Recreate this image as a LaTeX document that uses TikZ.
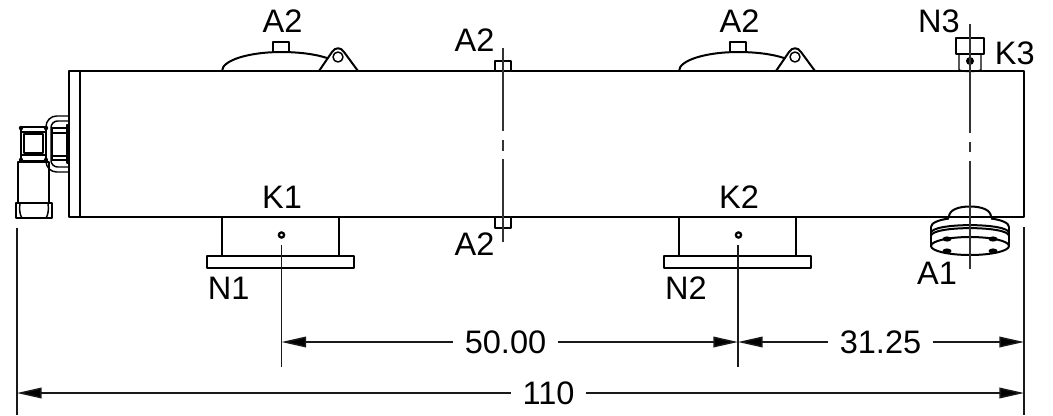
\documentclass[tikz,border=0pt]{standalone}
\usepackage{fontspec}
\setmainfont{Liberation Sans}
\usetikzlibrary{arrows.meta}
\tikzset{
  x=0.75pt,y=-0.75pt,
  part/.style={draw=black,line width=1.5pt,line join=round},
  fine/.style={draw=black,line width=1.1pt,line join=round},
  axis/.style={draw=black!80,line width=1.15pt},
  ext/.style={draw=black!90,line width=1.25pt},
  dimline/.style={draw=black!90,line width=1.1pt,-{Triangle[length=18.5pt,width=8pt,fill=black]}},
  lbl/.style={inner sep=0pt,font=\fontsize{24.4pt}{25pt}\selectfont},
  dimlbl/.style={lbl,inner xsep=8.5pt},
}
\begin{document}
\begin{tikzpicture}
\useasboundingbox (0,0) rectangle (1053,415);
% main body
\draw[part] (69,71) rectangle (1024,217);
\draw[part] (80,71) -- (80,217);

% left connector
\draw[fine,rounded corners=8pt] (69,116) -- (46,116) -- (46,172) -- (69,172);
\draw[fine,rounded corners=5pt] (69,121) -- (51,121) -- (51,167) -- (69,167);
\draw[fine] (52,128) rectangle (67,160);
\draw[fine] (67,125) rectangle (69,163);
\draw[fine] (52,133) -- (67,133);
\draw[fine] (52,156) -- (67,156);
\draw[part] (21,127) rectangle (46,161);
\draw[fine] (24,134) rectangle (43,153);
\draw[fine] (21,132) -- (46,132) (21,155) -- (46,155);
\foreach \kx/\ky in {21/128,46/128,21/160,46/160}{\fill (\kx,\ky) circle (2.2);}
\draw[fine] (18,162) rectangle (49,203);
\draw[part] (16,203) rectangle (52,218);
\draw[fine] (20,203) .. controls (19,210) and (20,215) .. (22,218);
\draw[fine] (48,203) .. controls (49,210) and (48,215) .. (46,218);
\draw[part] (18,162) -- (49,162);

% lids on top
\foreach \dx in {0,457}{
  \draw[part] (222+\dx,71) .. controls (222+\dx,60) and (250+\dx,52) .. (281+\dx,52)
    .. controls (298+\dx,52) and (315+\dx,54) .. (327+\dx,58);
  \draw[fine,fill=white] (273+\dx,42) rectangle (289+\dx,52);
  \draw[part] (319+\dx,71) -- (332+\dx,52)
    .. controls (335+\dx,47) and (341+\dx,47) .. (344+\dx,52) -- (358+\dx,71);
  \draw[fine] (338+\dx,57) circle (5);
  % lower nozzle
  \draw[part] (222+\dx,217) -- (222+\dx,256);
  \draw[part] (339+\dx,217) -- (339+\dx,256);
  \draw[part] (207+\dx,256) rectangle (354+\dx,268);
  \draw[draw=black,line width=1.7pt] (281.5+\dx,235) circle (2.6);
}

% small A2 bosses
\draw[fine] (495,61) rectangle (511,71);
\draw[fine] (495,217) rectangle (511,228);

% centre axis A2
\coordinate (axisAtop) at (503,48);
\coordinate (axisAa) at (503,131);
\coordinate (axisAb) at (503,140);
\coordinate (axisAc) at (503,151);
\coordinate (axisAd) at (503,159);
\coordinate (axisAbot) at (503,242);
\draw[axis] (axisAtop) -- (axisAa) (axisAb) -- (axisAc) (axisAd) -- (axisAbot);

% N3 / K3 fitting
\draw[fine] (956,38) rectangle (984,54);
\draw[fine] (959,54) -- (959,70) .. controls (964,72) and (976,72) .. (981,70) -- (981,54);
\fill (970,61) circle (4);

% A1 flange
\draw[part] (949,217) .. controls (949,210) and (958,206.5) .. (970,206.5)
  .. controls (982,206.5) and (991,210) .. (991,217);
\draw[part] (949,218.5) .. controls (938,220) and (931,223) .. (931,227);
\draw[part] (991,218.5) .. controls (1002,220) and (1009,223) .. (1009,227);
\draw[part] (931,227) -- (931,246) (1009,227) -- (1009,246);
\draw[part] (931,233) .. controls (931,222.5) and (1009,222.5) .. (1009,233);
\draw[part] (931,236) .. controls (931,225.5) and (1009,225.5) .. (1009,236);
\draw[part] (970,246) ellipse [x radius=39,y radius=9];
\foreach \hx/\hy in {947/239,993/239,947/251,993/251}{
  \fill (\hx,\hy) ellipse [x radius=4.5,y radius=2.6];
}

% axis K3 / A1
\coordinate (axisBtop) at (970,24);
\coordinate (axisBa) at (970,133);
\coordinate (axisBb) at (970,142);
\coordinate (axisBc) at (970,152);
\coordinate (axisBd) at (970,161);
\coordinate (axisBbot) at (970,269);
\draw[axis] (axisBtop) -- (axisBa) (axisBb) -- (axisBc) (axisBd) -- (axisBbot);

% labels
\node[lbl] (la1) at (282.5,21) {A2};
\node[lbl] (la2) at (474.5,40.5) {A2};
\node[lbl] (la3) at (739.5,21) {A2};
\node[lbl] (la4) at (474.5,244) {A2};
\node[lbl] (lk1) at (282,197) {K1};
\node[lbl] (lk2) at (739,197) {K2};
\node[lbl] (ln1) at (228.7,288) {N1};
\node[lbl] (ln2) at (686,288) {N2};
\node[lbl] (ln3) at (939,21) {N3};
\node[lbl] (lk3) at (1014.7,53) {K3};
\node[lbl] (la5) at (937,273) {A1};

% extension lines
\coordinate (xk1t) at (281.5,245);
\coordinate (xk1b) at (281.5,367);
\coordinate (xk2t) at (738,245);
\coordinate (xk2b) at (738,367);
\coordinate (xlt) at (17,228);
\coordinate (xlb) at (17,415);
\coordinate (xrt) at (1024,227);
\coordinate (xrb) at (1024,415);
\draw[ext] (xk1t) -- (xk1b);
\draw[ext] (xk2t) -- (xk2b);
\draw[ext] (xlt) -- (xlb);
\draw[ext] (xrt) -- (xrb);

% dimensions
\node[dimlbl] (d50) at (505.5,342) {50.00};
\node[dimlbl] (d31) at (880.5,342) {31.25};
\node[dimlbl] (d110) at (548.5,393) {110};
\coordinate (a50l) at (281.5,342);
\coordinate (a50r) at (738,342);
\coordinate (a31l) at (738,342);
\coordinate (a31r) at (1024,342);
\coordinate (a110l) at (17,393);
\coordinate (a110r) at (1024,393);
\draw[dimline] (d50.west) -- (a50l);
\draw[dimline] (d50.east) -- (a50r);
\draw[dimline] (d31.west) -- (a31l);
\draw[dimline] (d31.east) -- (a31r);
\draw[dimline] (d110.west) -- (a110l);
\draw[dimline] (d110.east) -- (a110r);
\end{tikzpicture}
\end{document}
